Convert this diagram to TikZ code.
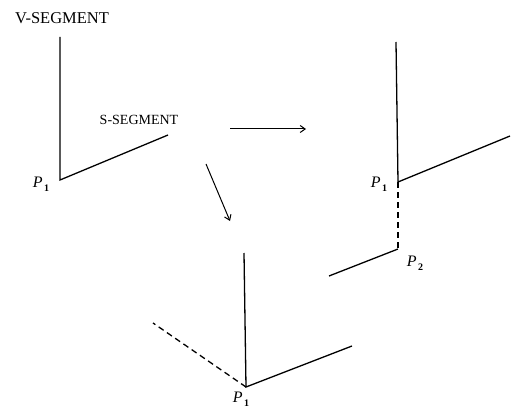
\documentclass[tikz,border=0pt]{standalone}
\usepackage{fontspec}
\setmainfont{Liberation Serif}
\usetikzlibrary{arrows.meta}
\newcommand{\plab}[1]{\textit{P}\kern1.5pt\raisebox{-4pt}{\fontsize{10}{10}\selectfont\textbf{#1}}}
\begin{document}
\begin{tikzpicture}[x=1pt,y=-1pt,
  seg/.style={line width=1.3pt},
  dseg/.style={line width=1.3pt,dash pattern=on 6pt off 4pt},
  arr/.style={line width=1pt,-{Straight Barb[length=5pt,width=7pt]}},
  lbl/.style={font=\fontsize{14}{16}\selectfont,inner sep=0pt},
  plbl/.style={font=\fontsize{16}{18}\selectfont,inner sep=0pt}]
\useasboundingbox (0,0) rectangle (511,409);
% labels
\node[lbl,font=\fontsize{16.5}{18}\selectfont] (vseg) at (62,18) {V-SEGMENT};
\node[lbl] (sseg) at (139,120) {S-SEGMENT};
% figure 1
\coordinate (a1) at (60,37);
\coordinate (a0) at (60,180);
\coordinate (a2) at (168,135);
\draw[seg] (a1) -- (a0) -- (a2);
\node[plbl] (ap) at (41,184) {\plab{1}};
% arrows
\coordinate (r0) at (230,129);
\coordinate (r1) at (306,129);
\draw[arr] (r0) -- (r1);
\coordinate (d0) at (206,164);
\coordinate (d1) at (230,221);
\draw[arr] (d0) -- (d1);
% figure 2
\coordinate (b1) at (396,42);
\coordinate (b0) at (398,182);
\coordinate (b2) at (510,136);
\coordinate (b3) at (398,249);
\coordinate (b4) at (329,276);
\draw[seg] (b1) -- (b0) -- (b2);
\draw[dseg] (b0) -- (b3);
\draw[seg] (b3) -- (b4);
\node[plbl] (bp1) at (379,184) {\plab{1}};
\node[plbl] (bp2) at (415,263) {\plab{2}};
% figure 3
\coordinate (c1) at (244,253);
\coordinate (c0) at (246,387);
\coordinate (c2) at (352,346);
\coordinate (c3) at (153,323);
\draw[seg] (c1) -- (c0) -- (c2);
\draw[dseg] (c0) -- (c3);
\node[plbl] (cp) at (241,399) {\plab{1}};
\end{tikzpicture}
\end{document}
